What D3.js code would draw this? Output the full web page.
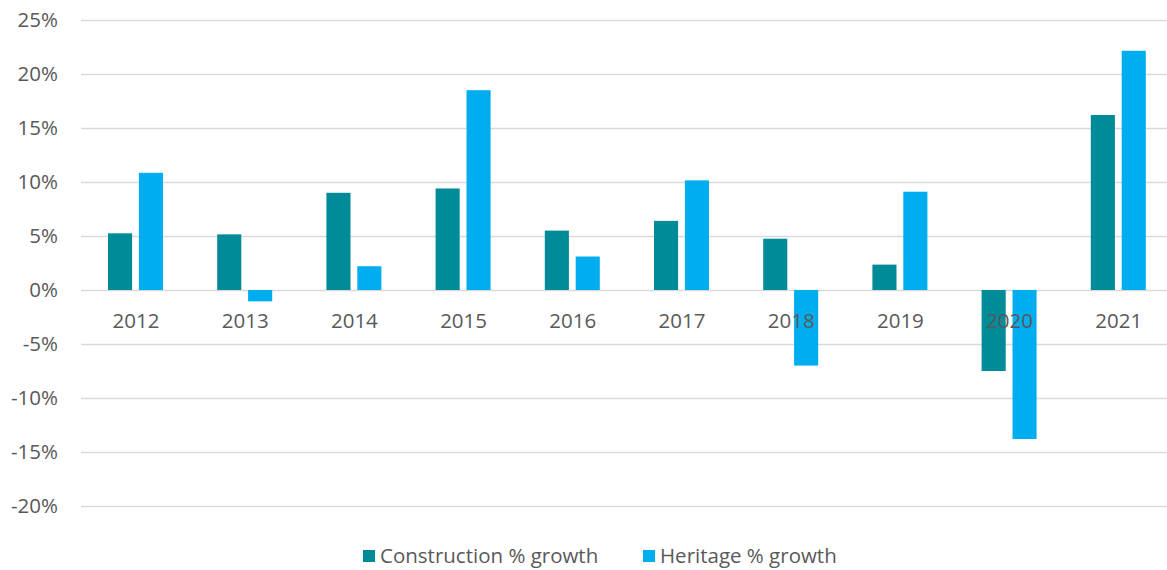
<!DOCTYPE html>
<html>
<head>
<meta charset="utf-8">
<script src="https://cdn.jsdelivr.net/npm/d3@7"></script>
<style>
  body { margin: 0; background: #fff; }
  svg { display: block; font-family: "Open Sans", sans-serif; }
</style>
</head>
<body>
<svg width="1167" height="570"></svg>
<script>
// data
var years = ["2012", "2013", "2014", "2015", "2016", "2017", "2018", "2019", "2020", "2021"];
var construction = [5.25, 5.15, 9.0, 9.4, 5.5, 6.4, 4.75, 2.35, -7.5, 16.2];
var heritage = [10.85, -1.05, 2.2, 18.5, 3.1, 10.15, -7.0, 9.1, -13.8, 22.15];
var seriesNames = ["Construction % growth", "Heritage % growth"];
var colors = ["#008b99", "#00aeef"];
var yTicks = [-20, -15, -10, -5, 0, 5, 10, 15, 20, 25];

var svg = d3.select("svg");
var plotLeft = 81, plotRight = 1173, plotTop = 20, plotBottom = 506;
var fontSize = "20.5px";

var x = d3.scaleBand().domain(years).range([plotLeft, plotRight]).paddingInner(0).paddingOuter(0);
var x1 = d3.scaleBand().domain([0, 1]).range([27, 82]).paddingInner(0.22);
var y = d3.scaleLinear().domain([-20, 25]).range([plotBottom, plotTop]);

// gridlines + y labels
var yAxis = svg.append("g")
    .attr("transform", "translate(" + plotLeft + ",0)")
    .call(d3.axisLeft(y).tickValues(yTicks).tickSize(-(1167 - plotLeft)).tickPadding(23)
        .tickFormat(function (d) { return d + "%"; }));
yAxis.select(".domain").remove();
yAxis.selectAll("line").attr("stroke", "#d9d9d9").attr("stroke-width", 1.6);
yAxis.selectAll("text")
    .attr("fill", "#595959")
    .style("font-size", fontSize)
    .style("font-family", "'Open Sans', sans-serif");

// bars
var rows = years.map(function (yr, i) {
    return { year: yr, vals: [construction[i], heritage[i]] };
});
var g = svg.append("g");
rows.forEach(function (r) {
    g.selectAll(null)
        .data(r.vals)
        .enter().append("rect")
        .attr("x", function (d, j) { return x(r.year) + x1(j); })
        .attr("width", x1.bandwidth())
        .attr("y", function (d) { return y(Math.max(0, d)); })
        .attr("height", function (d) { return Math.abs(y(d) - y(0)); })
        .attr("fill", function (d, j) { return colors[j]; });
});

// x labels (drawn on top of the bars)
svg.append("g")
    .selectAll("text")
    .data(years)
    .enter().append("text")
    .attr("x", function (d) { return x(d) + 55; })
    .attr("y", 328)
    .attr("text-anchor", "middle")
    .attr("fill", "#595959")
    .style("font-size", fontSize)
    .text(function (d) { return d; });

// legend
var legend = svg.append("g");
var legendX = [363, 643];
seriesNames.forEach(function (name, i) {
    legend.append("rect")
        .attr("x", legendX[i])
        .attr("y", 550)
        .attr("width", 12)
        .attr("height", 12)
        .attr("fill", colors[i]);
    legend.append("text")
        .attr("x", legendX[i] + 17)
        .attr("y", 563)
        .attr("fill", "#595959")
        .style("font-size", fontSize)
        .text(name);
});
</script>
</body>
</html>
